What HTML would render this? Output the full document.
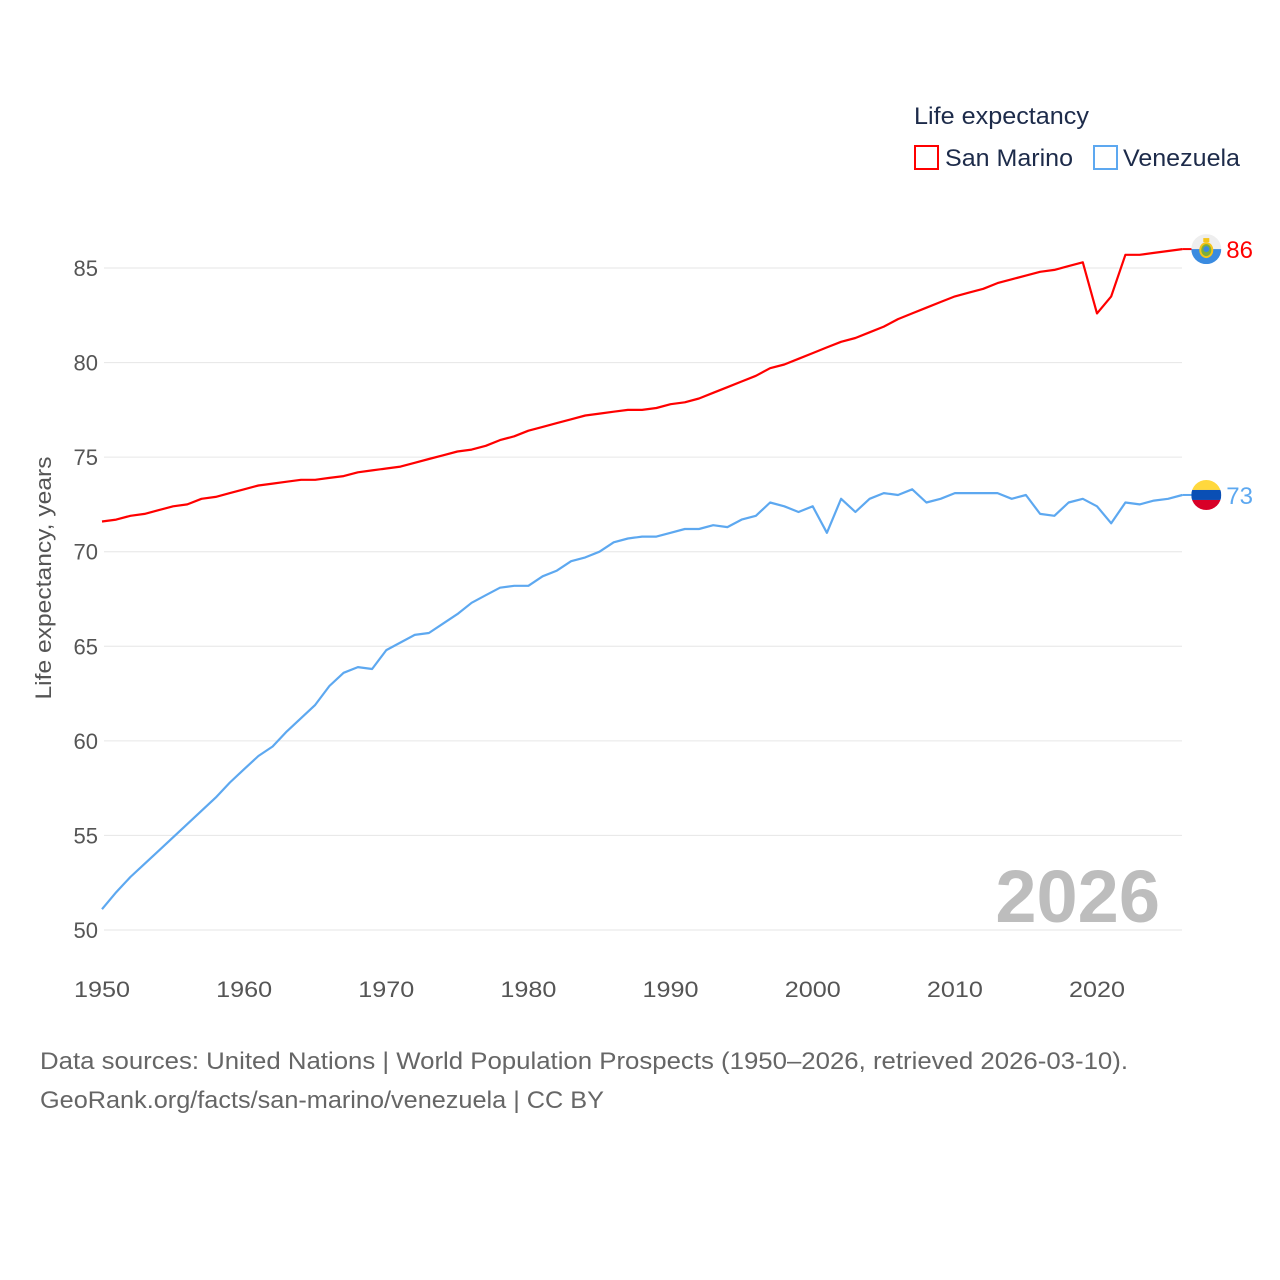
<!DOCTYPE html>
<html><head><meta charset="utf-8"><style>
body{margin:0;background:#fff;}
svg{display:block;font-family:"Liberation Sans",sans-serif;}
</style></head><body>
<svg id="chart" width="1280" height="1280" viewBox="0 0 1280 1280" xmlns="http://www.w3.org/2000/svg">
<rect width="1280" height="1280" fill="#fff"/>
<g id="grid"></g>
<g id="yticks"></g>
<g id="xticks"></g>
<text transform="translate(51,578) rotate(-90)" text-anchor="middle" font-size="22" fill="#555" textLength="243" lengthAdjust="spacingAndGlyphs">Life expectancy, years</text>
<text x="1160" y="922" text-anchor="end" font-size="74" font-weight="bold" fill="#bdbdbd">2026</text>
<g>
<text x="914" y="124" font-size="24" fill="#1d2b4a" textLength="175" lengthAdjust="spacingAndGlyphs">Life expectancy</text>
<g>
<rect x="915" y="146" width="23" height="23" fill="none" stroke="#ff0000" stroke-width="2"/>
<text x="945" y="166" font-size="24" fill="#1d2b4a" textLength="128" lengthAdjust="spacingAndGlyphs">San Marino</text></g>
<g>
<rect x="1094" y="146" width="23" height="23" fill="none" stroke="#5da8f0" stroke-width="2"/>
<text x="1123" y="166" font-size="24" fill="#1d2b4a" textLength="117" lengthAdjust="spacingAndGlyphs">Venezuela</text></g>
</g>
<g id="series"></g>
<g id="ends"></g>
<text x="40" y="1069" font-size="24" fill="#666" textLength="1088" lengthAdjust="spacingAndGlyphs">Data sources: United Nations | World Population Prospects (1950–2026, retrieved 2026-03-10).</text>
<text x="40" y="1108" font-size="24" fill="#666" textLength="564" lengthAdjust="spacingAndGlyphs">GeoRank.org/facts/san-marino/venezuela | CC BY</text>
</svg>
<script>
const years = [];
for (let y = 1950; y <= 2026; y++) years.push(y);
const sanMarino = [71.6,71.7,71.9,72.0,72.2,72.4,72.5,72.8,72.9,73.1,73.3,73.5,73.6,73.7,73.8,73.8,73.9,74.0,74.2,74.3,74.4,74.5,74.7,74.9,75.1,75.3,75.4,75.6,75.9,76.1,76.4,76.6,76.8,77.0,77.2,77.3,77.4,77.5,77.5,77.6,77.8,77.9,78.1,78.4,78.7,79.0,79.3,79.7,79.9,80.2,80.5,80.8,81.1,81.3,81.6,81.9,82.3,82.6,82.9,83.2,83.5,83.7,83.9,84.2,84.4,84.6,84.8,84.9,85.1,85.3,82.6,83.5,85.7,85.7,85.8,85.9,86.0];
const venezuela = [51.1,52.0,52.8,53.5,54.2,54.9,55.6,56.3,57.0,57.8,58.5,59.2,59.7,60.5,61.2,61.9,62.9,63.6,63.9,63.8,64.8,65.2,65.6,65.7,66.2,66.7,67.3,67.7,68.1,68.2,68.2,68.7,69.0,69.5,69.7,70.0,70.5,70.7,70.8,70.8,71.0,71.2,71.2,71.4,71.3,71.7,71.9,72.6,72.4,72.1,72.4,71.0,72.8,72.1,72.8,73.1,73.0,73.3,72.6,72.8,73.1,73.1,73.1,73.1,72.8,73.0,72.0,71.9,72.6,72.8,72.4,71.5,72.6,72.5,72.7,72.8,73.0];
const yTicks = [50,55,60,65,70,75,80,85];
const xTicks = [1950,1960,1970,1980,1990,2000,2010,2020];
const endLabels = ["86","73"];

const NS = "http://www.w3.org/2000/svg";
const xS = y => 102 + (y - 1950) * (1097 - 102) / 70;
const yS = v => 930 - (v - 50) * (930 - 268) / 35;
function mk(tag, attrs, parent) {
  const e = document.createElementNS(NS, tag);
  for (const k in attrs) e.setAttribute(k, attrs[k]);
  parent.appendChild(e);
  return e;
}
const grid = document.getElementById('grid');
const yt = document.getElementById('yticks');
yTicks.forEach(t => {
  const l = mk('line', {x1:104, x2:1182, y1:yS(t), y2:yS(t), stroke:'#e6e6e6', 'stroke-width':1}, grid);
  
  
  const tx = mk('text', {x:98, y:yS(t)+8, 'text-anchor':'end', 'font-size':22, fill:'#555'}, yt);
  tx.textContent = t;
  
  
});
const xt = document.getElementById('xticks');
xTicks.forEach(t => {
  const tx = mk('text', {x:xS(t), y:997, 'text-anchor':'middle', 'font-size':22, fill:'#555', textLength:56, lengthAdjust:'spacingAndGlyphs'}, xt);
  tx.textContent = t;
  
  
});
const ser = document.getElementById('series');
const ends = document.getElementById('ends');
[[sanMarino,'#ff0000','san-marino',0],[venezuela,'#5da8f0','venezuela',1]].forEach(([vals,col,name,i]) => {
  const d = vals.map((v,j) => (j?'L':'M') + xS(years[j]).toFixed(1) + ',' + yS(v).toFixed(1)).join(' ');
  const p = mk('path', {d:d, fill:'none', stroke:col, 'stroke-width':2.2, 'stroke-linejoin':'round'}, ser);
  
  
  const last = vals[vals.length-1];
  const ex = xS(years[years.length-1]), ey = yS(last);
  mk('line', {x1:ex, y1:ey, x2:ex+10, y2:ey, stroke:col, 'stroke-width':2}, ends);
  const g = mk('g', {}, ends);
  
  
  const cx = ex + 24, r = 15;
  const cid = 'clip' + i;
  const cp = mk('clipPath', {id:cid}, g);
  mk('circle', {cx:cx, cy:ey, r:r}, cp);
  if (i === 0) {
    mk('rect', {x:cx-r, y:ey-r, width:2*r, height:r, fill:'#eeeeee', 'clip-path':'url(#'+cid+')'}, g);
    mk('rect', {x:cx-r, y:ey, width:2*r, height:r, fill:'#3a8be0', 'clip-path':'url(#'+cid+')'}, g);
    mk('ellipse', {cx:cx, cy:ey+1, rx:6, ry:7, fill:'#7cae3c', stroke:'#f5c518', 'stroke-width':2}, g);
    mk('circle', {cx:cx, cy:ey, r:3, fill:'#3a8be0'}, g);
    mk('rect', {x:cx-3, y:ey-11, width:6, height:4, fill:'#f5c518'}, g);
  } else {
    mk('rect', {x:cx-r, y:ey-r, width:2*r, height:10, fill:'#ffd83d', 'clip-path':'url(#'+cid+')'}, g);
    mk('rect', {x:cx-r, y:ey-5, width:2*r, height:10, fill:'#0a4fb5', 'clip-path':'url(#'+cid+')'}, g);
    mk('rect', {x:cx-r, y:ey+5, width:2*r, height:10, fill:'#d80027', 'clip-path':'url(#'+cid+')'}, g);
  }
  const lt = mk('text', {x:cx+r+5, y:ey+9, 'font-size':24, fill:col}, ends);
  lt.textContent = endLabels[i];
  
  
});
</script>
</body></html>
